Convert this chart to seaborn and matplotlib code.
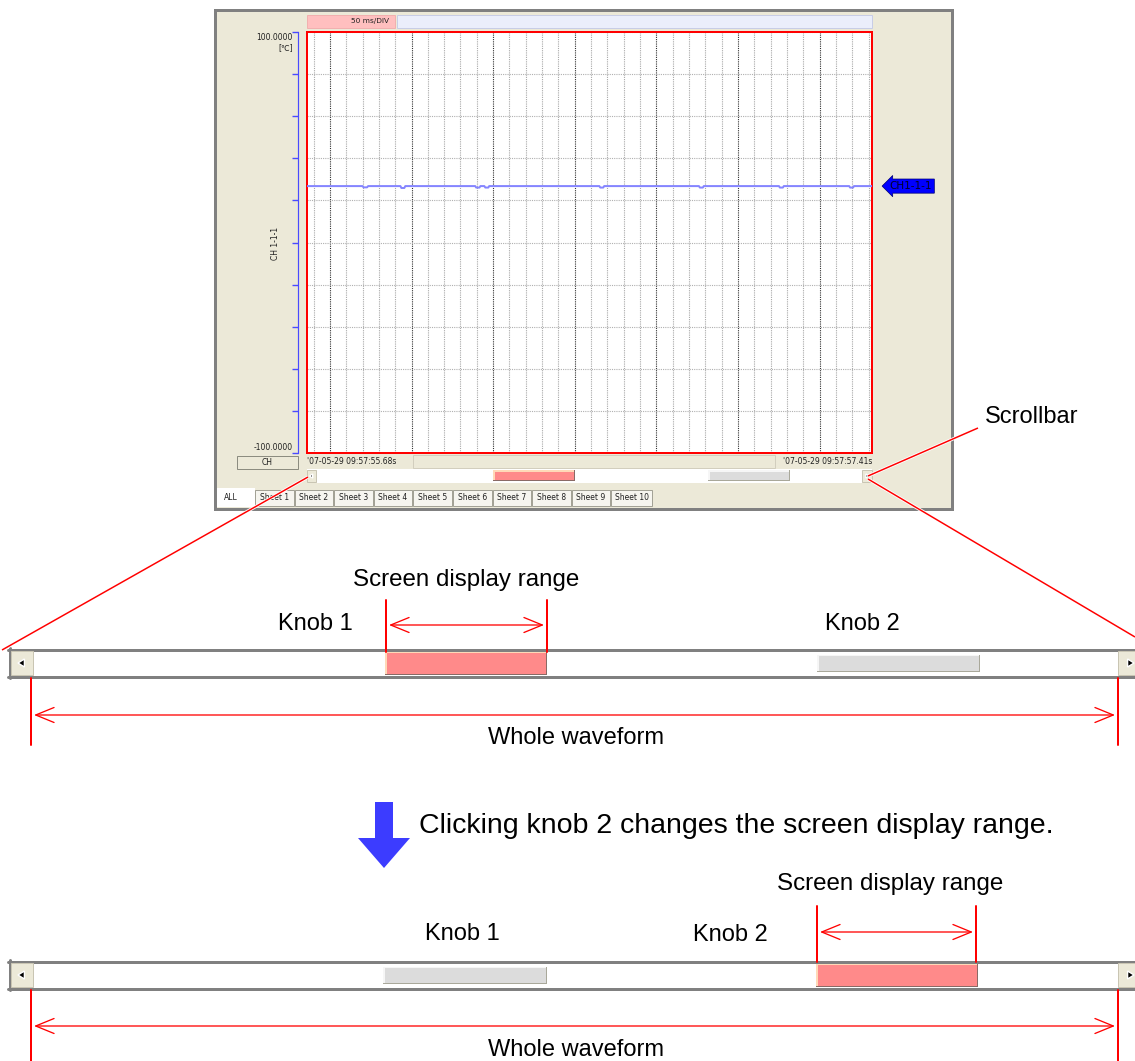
import numpy as np
import matplotlib
matplotlib.use("Agg")
import matplotlib.pyplot as plt
import matplotlib.patheffects as pe
from matplotlib.patches import Rectangle, Polygon
from matplotlib import transforms
import seaborn as sns

# ---- waveform shown in the viewer (CH 1-1-1, deg C) ----
t_start, t_end = 55.68, 57.41          # seconds after 09:57
y_min, y_max = -100.0, 100.0
div_s = 0.05                           # 50 ms/DIV
wave_t = [55.680, 55.850, 55.853, 55.864, 55.867, 55.966, 55.969, 55.978,
          55.981, 56.195, 56.198, 56.208, 56.211, 56.223, 56.226, 56.235,
          56.238, 56.575, 56.578, 56.587, 56.590, 56.880, 56.883, 56.892,
          56.895, 57.125, 57.128, 57.137, 57.140, 57.340, 57.343, 57.352,
          57.355, 57.410]
wave_v = [26.8, 26.8, 26.2, 26.2, 26.8, 26.8, 25.9, 25.9,
          26.8, 26.8, 26.1, 26.1, 26.8, 26.8, 26.1, 26.1,
          26.8, 26.8, 26.1, 26.1, 26.8, 26.8, 26.1, 26.1,
          26.8, 26.8, 26.1, 26.1, 26.8, 26.8, 26.1, 26.1,
          26.8, 26.8]
ch_name = "CH1-1-1"
start_label = "'07-05-29 09:57:55.68s"
end_label = "'07-05-29 09:57:57.41s"
tab_labels = ["ALL", "Sheet 1", "Sheet 2", "Sheet 3", "Sheet 4", "Sheet 5",
              "Sheet 6", "Sheet 7", "Sheet 8", "Sheet 9", "Sheet 10"]

W, H = 1135, 1061
PX = 0.72  # points per pixel at dpi 100
BEIGE = "#ECE9D8"
PINK = "#FF8A8A"
RED = "#FF0000"

sns.set_theme(style="white")
plt.rcParams["font.family"] = ["DejaVu Sans"]
fig = plt.figure(figsize=(W / 100, H / 100), dpi=100)
bg = fig.add_axes([0, 0, 1, 1])
bg.set_xlim(0, W)
bg.set_ylim(H, 0)
bg.axis("off")


def box(x0, y0, x1, y1, fc, ec="none", lw=1, z=1):
    bg.add_patch(Rectangle((x0, y0), x1 - x0, y1 - y0, fc=fc, ec=ec,
                           lw=lw * PX, zorder=z))


def knob(x0, x1, y0, y1, pink):
    fill, light, dark = ((PINK, "#FFD9B8", "#8A6A66") if pink
                         else ("#DCDCDC", "#F6F6F6", "#A9A89A"))
    box(x0, y0, x1, y1, dark, z=4)
    box(x0, y0, x1 - 1.5, y1 - 1.5, light, z=4)
    box(x0 + 1.5, y0 + 1.5, x1 - 1.5, y1 - 1.5, fill, z=4)


def button(x0, x1, y0, y1, left, s):
    box(x0, y0, x1, y1, BEIGE, ec="#C9C5B3", lw=1, z=4)
    cx, cy = (x0 + x1) / 2, (y0 + y1) / 2
    d = -1 if left else 1
    bg.add_patch(Polygon([(cx + d * s, cy), (cx - d * s * 0.6, cy - s),
                          (cx - d * s * 0.6, cy + s)], fc="black", zorder=5))


def scrollbar(y0, y1, knobs):
    box(8, y0, W + 5, y1, "white", z=2)
    for yy in (y0 + 1.5, y1 - 1.5):
        bg.plot([8, W], [yy, yy], color="#808080", lw=3 * PX, zorder=3)
    bg.plot([9.5, 9.5], [y0, y1], color="#808080", lw=3 * PX, zorder=3)
    button(11, 33, y0 + 3, y1 - 3, True, 4)
    button(1118, 1142, y0 + 3, y1 - 3, False, 4)
    for x0, x1, pink in knobs:
        if pink:
            knob(x0, x1, y0 + 3.5, y1 - 3, True)
        else:
            knob(x0, x1, y0 + 6.5, y1 - 6, False)


def label(x, y, s, ha="center", size=17):
    bg.text(x, y, s, ha=ha, va="center", fontsize=size,
            family=["Liberation Sans", "DejaVu Sans"], color="black")


def span(x0, x1, ytop, ybot, yarrow):
    for xx in (x0, x1):
        bg.plot([xx, xx], [ytop, ybot], color=RED, lw=2 * PX, zorder=6)
    bg.annotate("", xy=(x1 - 3, yarrow), xytext=(x0 + 3, yarrow),
                arrowprops=dict(arrowstyle="<->,head_length=1.1,head_width=0.45",
                                color=RED, lw=1.3 * PX, shrinkA=0, shrinkB=0))


# ---- viewer window ----
box(215, 10, 952, 509, BEIGE, ec="#808080", lw=3)
box(307, 15, 395, 28, "#FFBFBF", ec="#F0A8A8", lw=0.8, z=2)
bg.text(389, 21.5, "50 ms/DIV", ha="right", va="center", fontsize=5.3, color="#202020")
box(397, 15, 872, 28, "#EBEEFB", ec="#C8CDE6", lw=1, z=2)

ax = fig.add_axes([307 / W, 1 - 453 / H, 565 / W, 421 / H])
ax.set_facecolor("white")
sns.lineplot(x=wave_t, y=wave_v, ax=ax, color="#8585FF", lw=2 * PX, zorder=3)
ax.set_xlim(t_start, t_end)
ax.set_ylim(y_min, y_max)
ax.set_xticks(np.arange(55.75, t_end, 0.25))
ax.set_xticks(np.round(np.arange(55.70, t_end, div_s), 2), minor=True)
ax.set_yticks(np.arange(y_min, y_max + 1, 20))
ax.grid(axis="x", which="major", color="#303030", ls=(0, (1, 1)), lw=0.8)
ax.grid(axis="x", which="minor", color="#A8A8A8", ls=(0, (1, 1)), lw=0.8)
ax.grid(axis="y", which="major", color="#B0B0B0", ls=(0, (1, 1)), lw=0.8)
ax.tick_params(which="both", length=0, labelbottom=False, labelleft=False)
ax.set_xlabel("")
ax.set_ylabel("")
for sp in ax.spines.values():
    sp.set_color(RED)
    sp.set_linewidth(2 * PX)
    sp.set_visible(True)

sec = ax.secondary_yaxis(-9 / 565)
sec.set_yticks(np.arange(y_min, y_max + 1, 20))
sec.tick_params(axis="y", direction="out", length=4, width=1, color="#4A4AFF",
                labelleft=False)
sec.spines["left"].set_color("#4A4AFF")
sec.spines["left"].set_linewidth(1.2 * PX)

blend = transforms.blended_transform_factory(ax.transAxes, ax.transData)
ax.annotate(ch_name, xy=(1, wave_v[0]), xycoords=blend, xytext=(39, 0),
            textcoords="offset pixels", ha="center", va="center",
            fontsize=7.5, color="#000028", annotation_clip=False,
            bbox=dict(boxstyle="larrow,pad=0.2", fc="#0000FF", ec="#000070", lw=0.5))

bg.text(293, 38, "100.0000", ha="right", va="center", fontsize=5.5, color="#202020")
bg.text(293, 48, "[\u2103]", ha="right", va="center", fontsize=5.5, color="#202020")
bg.text(293, 448, "-100.0000", ha="right", va="center", fontsize=5.5, color="#202020")
bg.text(276, 243, "CH 1-1-1", ha="center", va="center", rotation=90,
        fontsize=5.5, color="#202020")

box(237, 456, 298, 469, BEIGE, ec="#8C8C80", lw=1, z=2)
bg.text(267.5, 462.5, "CH", ha="center", va="center", fontsize=5.5, color="#202020")
box(413, 455, 775, 468, BEIGE, ec="#D2CEBE", lw=1, z=2)
bg.text(307, 461.5, start_label, ha="left", va="center", fontsize=5.5, color="#202020")
bg.text(872, 461.5, end_label, ha="right", va="center", fontsize=5.5, color="#202020")

box(307, 469, 872, 483, "white", z=2)
button(307, 316, 470, 482, True, 2)
button(862, 872, 470, 482, False, 2)
knob(493, 575, 470, 481, True)
knob(708, 790, 470, 481, False)

for i, name in enumerate(tab_labels):
    if i == 0:
        box(217, 488, 255, 507, "white", z=2)
        bg.text(224, 498, name, ha="left", va="center", fontsize=5.5, color="#202020")
    else:
        x0 = 255 + (i - 1) * 39.6
        x1 = x0 + (41 if i == 10 else 38.5)
        box(x0, 490, x1, 506, "#F6F5EF", ec="#A3A296", lw=1, z=2)
        bg.text((x0 + x1) / 2, 498, name, ha="center", va="center",
                fontsize=5.5, color="#202020", zorder=3)

# ---- red pointers from the small scrollbar ----
stroke = [pe.withStroke(linewidth=3.2 * PX, foreground="white")]
for xs, ys in (([308, 2], [477, 650]), ([868, 978], [476, 428]),
               ([868, W], [479, 637])):
    bg.plot(xs, ys, color=RED, lw=1.5 * PX, zorder=7, path_effects=stroke,
            solid_capstyle="butt")
label(1032, 417, "Scrollbar")

# ---- upper zoomed scrollbar ----
scrollbar(648, 678, [(385, 547, True), (817, 980, False)])
label(466, 580, "Screen display range", size=17.4)
label(315, 624, "Knob 1")
label(862, 624, "Knob 2")
span(386, 547, 600, 652, 625)
span(31, 1118, 678, 745, 715)
label(576, 738, "Whole waveform")

# ---- blue arrow + caption ----
bg.add_patch(Polygon([(375, 802), (393, 802), (393, 838), (410, 838),
                      (384, 868), (358, 838), (375, 838)],
                     fc="#3C3CFF", ec="none", zorder=5))
label(419, 826, "Clicking knob 2 changes the screen display range.", ha="left", size=20.5)

# ---- lower zoomed scrollbar ----
scrollbar(960, 990, [(383, 547, False), (816, 978, True)])
label(890, 884, "Screen display range", size=17.4)
label(462, 934, "Knob 1")
label(730, 935, "Knob 2")
span(817, 976, 906, 962, 932)
span(31, 1118, 990, 1061, 1026)
label(576, 1050, "Whole waveform")

fig.savefig("out.png", dpi=100, facecolor="white")
